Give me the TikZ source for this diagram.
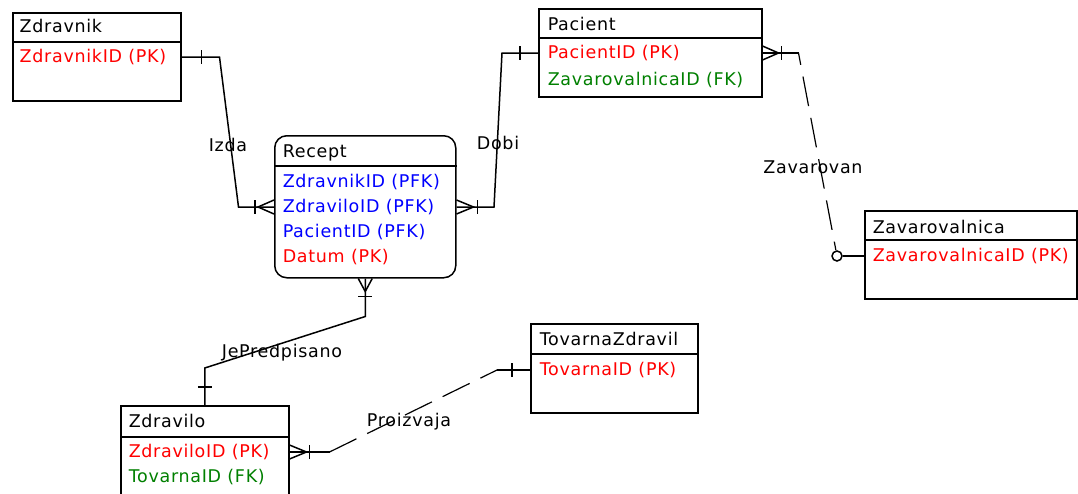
\documentclass[tikz,border=0pt]{standalone}
\usepackage{fontspec}
\setmainfont[LetterSpace=4]{DejaVu Sans}
\definecolor{pkred}{RGB}{255,0,0}
\definecolor{fkgreen}{RGB}{0,128,0}
\definecolor{pfkblue}{RGB}{0,0,255}

\begin{document}
\begin{tikzpicture}[x=1pt,y=-1pt,line width=1.5pt,
    font=\fontsize{17.5}{20}\selectfont,
    entity/.style={draw,inner sep=0pt,anchor=north west},
    attr/.style={anchor=west,inner sep=0pt,text height=13pt,text depth=3pt},
    rel/.style={line width=1.5pt},
    optrel/.style={line width=1.2pt,dash pattern=on 30pt off 12pt},
    optend/.style={circle,draw,line width=1.5pt,minimum size=10pt,inner sep=0pt},
    lbl/.style={inner sep=0pt}]

    \clip (0,0) rectangle (1078,493);
    \fill [white] (0,0) rectangle (1078,493);

    % Zdravnik
    \node [entity,minimum width=168pt,minimum height=88pt] (zdravnik) at (12,12) {};
    \draw ([yshift=-30pt]zdravnik.north west) -- ([yshift=-30pt]zdravnik.north east);
    \node [attr] (zdravnikT) at (19,27) {Zdravnik};
    \node [attr,pkred] (zdravnikID) at (19,57) {ZdravnikID (PK)};

    % Recept
    \node [entity,rounded corners=12pt,minimum width=181pt,minimum height=142pt] (recept) at (274,135) {};
    \draw ([yshift=-31pt]recept.north west) -- ([yshift=-31pt]recept.north east);
    \node [attr] (receptT) at (282,152) {Recept};
    \node [attr,pfkblue] (receptZn) at (282,182) {ZdravnikID (PFK)};
    \node [attr,pfkblue] (receptZv) at (282,207) {ZdraviloID (PFK)};
    \node [attr,pfkblue] (receptPc) at (282,232) {PacientID (PFK)};
    \node [attr,pkred] (receptDt) at (282,257) {Datum (PK)};

    % Pacient
    \node [entity,minimum width=223pt,minimum height=88pt] (pacient) at (538,8) {};
    \draw ([yshift=-30pt]pacient.north west) -- ([yshift=-30pt]pacient.north east);
    \node [attr] (pacientT) at (547,25) {Pacient};
    \node [attr,pkred] (pacientID) at (547,53) {PacientID (PK)};
    \node [attr,fkgreen] (pacientZav) at (547,80) {ZavarovalnicaID (FK)};

    % Zavarovalnica
    \node [entity,minimum width=212pt,minimum height=88pt] (zavarovalnica) at (864,210) {};
    \draw ([yshift=-30pt]zavarovalnica.north west) -- ([yshift=-30pt]zavarovalnica.north east);
    \node [attr] (zavarovalnicaT) at (872,228) {Zavarovalnica};
    \node [attr,pkred] (zavarovalnicaID) at (872,256) {ZavarovalnicaID (PK)};

    % TovarnaZdravil
    \node [entity,minimum width=167pt,minimum height=89pt] (tovarna) at (530,323) {};
    \draw ([yshift=-31pt]tovarna.north west) -- ([yshift=-31pt]tovarna.north east);
    \node [attr] (tovarnaT) at (539,340) {TovarnaZdravil};
    \node [attr,pkred] (tovarnaID) at (539,370) {TovarnaID (PK)};

    % Zdravilo (cut off at the bottom)
    \node [entity,minimum width=168pt,minimum height=95pt] (zdravilo) at (120,405) {};
    \draw ([yshift=-32pt]zdravilo.north west) -- ([yshift=-32pt]zdravilo.north east);
    \node [attr] (zdraviloT) at (128,422) {Zdravilo};
    \node [attr,pkred] (zdraviloID) at (128,452) {ZdraviloID (PK)};
    \node [attr,fkgreen] (zdraviloTov) at (128,477) {TovarnaID (FK)};

    % Izda: Zdravnik -> Recept
    \draw [rel] (zdravnikID -| zdravnik.east) -- ++(38,0) -- ++(19,150) -- (receptZv -| recept.west);
    \draw [rel] (zdravnikID -| zdravnik.east) ++(20,-7) -- ++(0,14);
    \draw [rel] (receptZv -| recept.west) ++(0,-7) -- ++(-16,7) -- ++(16,7);
    \draw [rel] (receptZv -| recept.west) ++(-19,-7) -- ++(0,14);
    \node [lbl] (izda) at (228,145) {Izda};

    % Dobi: Pacient -> Recept
    \draw [rel] (pacientID -| pacient.west) -- ++(-36,0) -- ++(-8,154) -- (receptZv -| recept.east);
    \draw [rel] (pacientID -| pacient.west) ++(-18,-7) -- ++(0,14);
    \draw [rel] (receptZv -| recept.east) ++(0,-7) -- ++(17,7) -- ++(-17,7);
    \draw [rel] (receptZv -| recept.east) ++(21,-7) -- ++(0,14);
    \node [lbl] (dobi) at (498,143) {Dobi};

    % Zavarovan: Zavarovalnica -> Pacient (optional)
    \draw [rel] (pacientID -| pacient.east) -- ++(36,0) coordinate (zvA);
    \draw [rel] (pacientID -| pacient.east) ++(0,-7) -- ++(16,7) -- ++(-16,7);
    \draw [rel] (pacientID -| pacient.east) ++(19,-7) -- ++(0,14);
    \node [optend] (zvO) at ([xshift=-27pt]zavarovalnicaID -| zavarovalnica.west) {};
    \draw [rel] (zvO) -- (zavarovalnicaID -| zavarovalnica.west);
    \draw [optrel,dash phase=18pt] (zvA) -- (zvO);
    \node [lbl] (zavarovan) at (813,167) {Zavarovan};

    % JePredpisano: Zdravilo -> Recept
    \draw [rel] (recept.south) -- ++(0,38) -- ([yshift=37pt]zdravilo.north) -- (zdravilo.north);
    \draw [rel] (recept.south) ++(-7,0) -- ++(7,13) -- ++(7,-13);
    \draw [rel] (recept.south) ++(-7,18) -- ++(14,0);
    \draw [rel] (zdravilo.north) ++(-7,-18) -- ++(14,0);
    \node [lbl] (jePredpisano) at (282,353) {JePredpisano};

    % Proizvaja: TovarnaZdravil -> Zdravilo
    \draw [rel] (tovarnaID -| tovarna.west) -- ++(-33,0) coordinate (pzA);
    \draw [rel] (tovarnaID -| tovarna.west) ++(-18,-7) -- ++(0,14);
    \draw [rel] (zdraviloID -| zdravilo.east) -- ++(40,0) coordinate (pzB);
    \draw [rel] (zdraviloID -| zdravilo.east) ++(0,-7) -- ++(17,7) -- ++(-17,7);
    \draw [rel] (zdraviloID -| zdravilo.east) ++(20,-7) -- ++(0,14);
    \draw [optrel] (pzB) -- (pzA);
    \node [lbl] (proizvaja) at (409,422) {Proizvaja};

\end{tikzpicture}
\end{document}
